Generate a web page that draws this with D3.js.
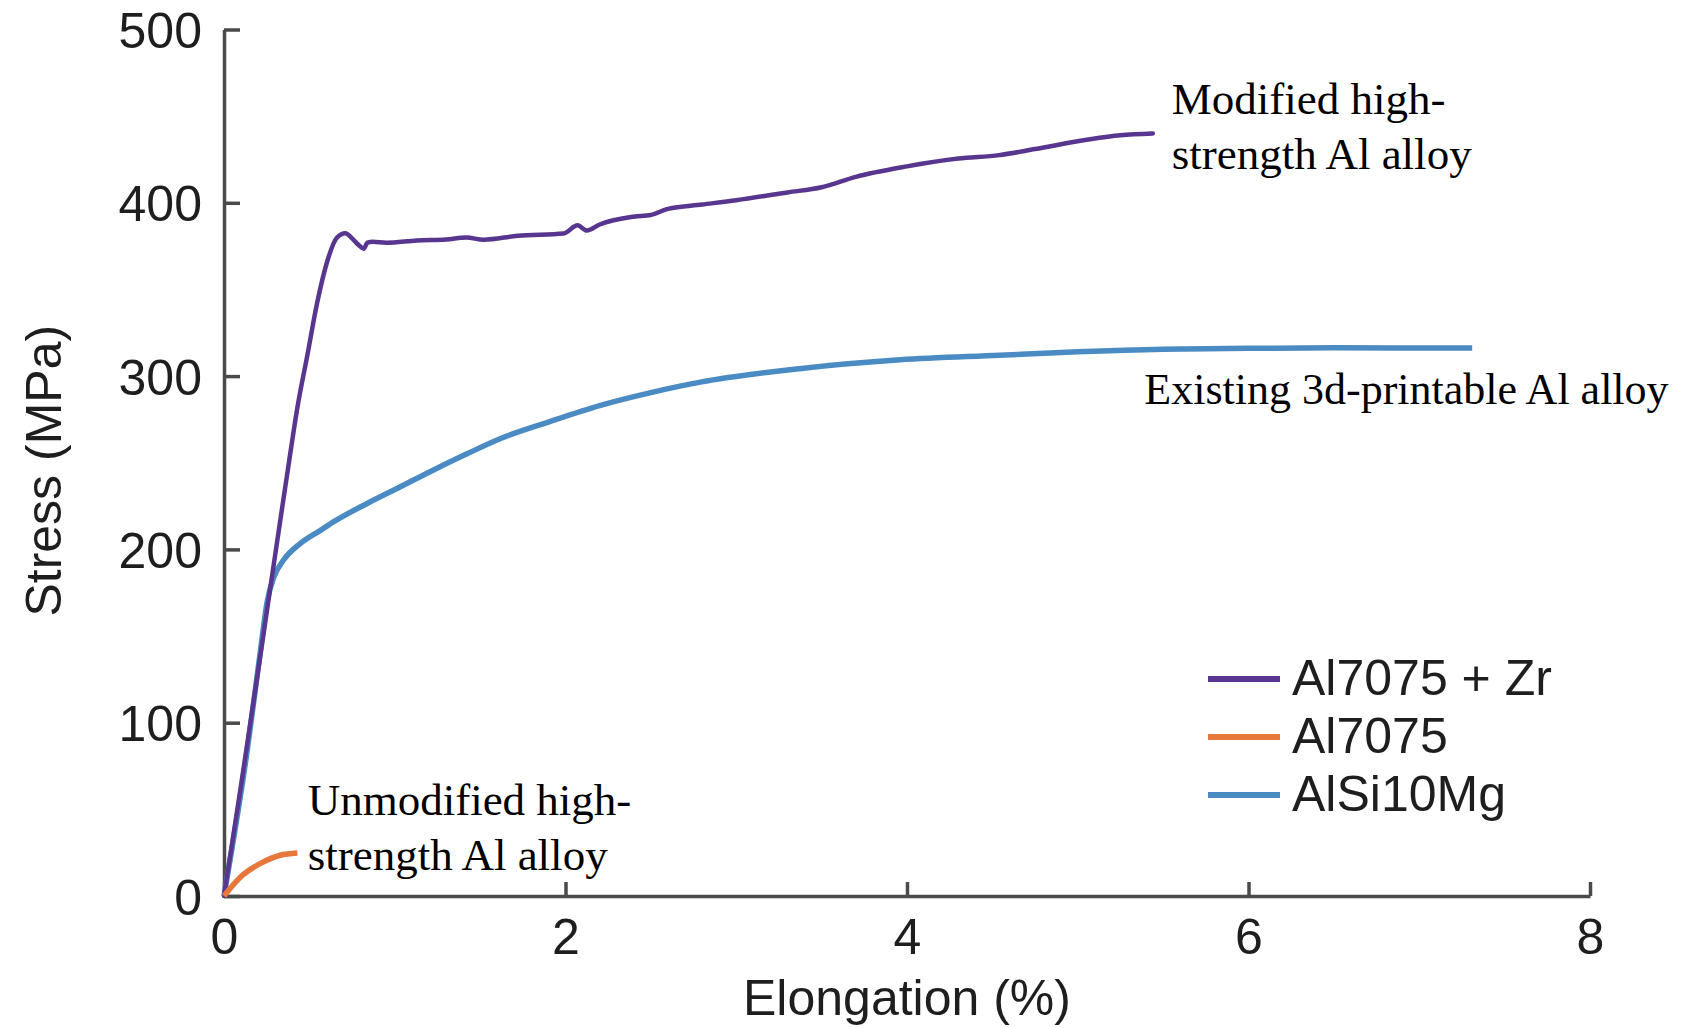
<!DOCTYPE html>
<html>
<head>
<meta charset="utf-8">
<script src="https://cdn.jsdelivr.net/npm/d3@7"></script>
<style>
    body { margin: 0; background: #fff; }
    .tick text { font-family: "Liberation Sans", Arial, sans-serif; fill: #1e1e1e; }
    .note { font-family: "Liberation Serif", "Times New Roman", serif; fill: #000; }
</style>
</head>
<body>
<div class="chart"></div>
<script>
// stress-strain curves: [elongation %, stress MPa]
const al7075_zr = [
    [0, 0], [0.1, 64], [0.2, 130], [0.27, 177], [0.33, 217], [0.38, 250], [0.43, 282],
    [0.49, 313], [0.545, 342], [0.604, 366], [0.662, 380], [0.711, 382.5], [0.75, 379.5],
    [0.79, 375.5], [0.818, 373.5], [0.84, 377], [0.87, 377.5], [0.95, 377], [1.13, 378.3],
    [1.3, 378.8], [1.42, 380], [1.52, 378.7], [1.72, 381], [1.99, 382.3], [2.07, 387],
    [2.125, 384], [2.2, 387.5], [2.4, 392], [2.5, 393], [2.6, 396.5], [2.8, 399],
    [3.0, 401.5], [3.3, 406], [3.5, 409], [3.7, 415], [4.0, 421], [4.3, 425.5],
    [4.54, 427.5], [4.75, 431], [5.06, 436.5], [5.25, 439], [5.44, 440]
]
const al7075 = [
    [0, 0], [0.05, 6], [0.097, 11], [0.214, 18.8], [0.33, 23.5], [0.43, 24.8]
]
const alsi10mg = [
    [0, 0], [0.136, 84], [0.214, 142], [0.253, 170], [0.292, 184], [0.35, 194],
    [0.448, 203.5], [0.565, 211], [0.643, 216], [0.838, 226.5], [1.03, 236], [1.23, 246],
    [1.42, 255], [1.62, 264], [1.9, 273.5], [2.2, 283], [2.5, 290.5], [2.79, 296.5],
    [3.37, 304.3], [3.96, 309.4], [4.54, 312], [5.0, 314], [5.5, 315.5], [6.0, 316],
    [6.5, 316.3], [7.31, 316.2]
]

const series_names = ["Al7075 + Zr", "Al7075", "AlSi10Mg"]
const series_colors = ["#58358e", "#e8773c", "#4b8bc4"]
const x_ticks = [0, 2, 4, 6, 8]
const y_ticks = [0, 100, 200, 300, 400, 500]
const annotations = [
    { lines: ["Modified high-", "strength Al alloy"], x: 5.55, y: 451, size: 45 },
    { lines: ["Existing 3d-printable Al alloy"], x: 5.39, y: 284, size: 44 },
    { lines: ["Unmodified high-", "strength Al alloy"], x: 0.49, y: 47, size: 45 }
]

const ctx = {
    W: 1699,
    H: 1028,
}

function draw_chart() {
    const svg = d3.select(".chart")
        .append("svg")
        .attr("width", ctx.W)
        .attr("height", ctx.H)

    const x = d3.scaleLinear().domain([0, 8]).range([224, 1590])
    const y = d3.scaleLinear().domain([0, 500]).range([896, 29.5])

    const x_axis = svg.append("g")
        .attr("transform", `translate(0,${y(0)})`)
        .call(d3.axisBottom(x).tickValues(x_ticks).tickSizeInner(-14).tickSizeOuter(0).tickPadding(22))
    const y_axis = svg.append("g")
        .attr("transform", `translate(${x(0)},0)`)
        .call(d3.axisLeft(y).tickValues(y_ticks).tickSizeInner(-16).tickSizeOuter(0).tickPadding(22))

    ;[x_axis, y_axis].forEach(a => {
        a.select(".domain").attr("stroke", "#4a4a4a").attr("stroke-width", 3.5)
        a.selectAll(".tick line").attr("stroke", "#4a4a4a").attr("stroke-width", 3.5)
        a.selectAll(".tick text").attr("font-size", 50)
    })
    x_axis.selectAll(".tick text").attr("dy", "0.71em")
    y_axis.selectAll(".tick text").attr("x", -22).attr("dy", "0.36em")

    // axis titles
    svg.append("text")
        .attr("x", (x(0) + x(8)) / 2)
        .attr("y", 1015)
        .attr("text-anchor", "middle")
        .attr("font-family", "Liberation Sans, Arial, sans-serif")
        .attr("font-size", 50)
        .attr("fill", "#1e1e1e")
        .text("Elongation (%)")

    svg.append("text")
        .attr("transform", `translate(61,${(y(0) + y(500)) / 2 + 8}) rotate(-90)`)
        .attr("text-anchor", "middle")
        .attr("font-family", "Liberation Sans, Arial, sans-serif")
        .attr("font-size", 50)
        .attr("fill", "#1e1e1e")
        .text("Stress (MPa)")

    const line_smooth = d3.line().x(d => x(d[0])).y(d => y(d[1])).curve(d3.curveMonotoneX)

    // blue first, purple above it, orange on top
    svg.append("path")
        .attr("d", line_smooth(alsi10mg))
        .attr("fill", "none")
        .attr("stroke", series_colors[2])
        .attr("stroke-width", 5.5)
        .attr("stroke-linejoin", "round")
    svg.append("path")
        .attr("d", line_smooth(al7075_zr))
        .attr("fill", "none")
        .attr("stroke", series_colors[0])
        .attr("stroke-width", 4.5)
        .attr("stroke-linejoin", "round")
        .attr("stroke-linecap", "round")
    svg.append("path")
        .attr("d", line_smooth(al7075))
        .attr("fill", "none")
        .attr("stroke", series_colors[1])
        .attr("stroke-width", 5.5)

    // legend
    const legend = svg.append("g").attr("class", "legend")
    series_names.forEach((name, i) => {
        const ly = 679 + i * 58
        legend.append("line")
            .attr("x1", 1208).attr("x2", 1280)
            .attr("y1", ly).attr("y2", ly)
            .attr("stroke", series_colors[i])
            .attr("stroke-width", 6)
        legend.append("text")
            .attr("x", 1292)
            .attr("y", ly + 16)
            .attr("font-family", "Liberation Sans, Arial, sans-serif")
            .attr("font-size", 50)
            .attr("fill", "#1e1e1e")
            .text(name)
    })

    // text notes
    annotations.forEach(a => {
        const t = svg.append("text")
            .attr("class", "note")
            .attr("font-size", a.size)
        a.lines.forEach((l, i) => {
            t.append("tspan")
                .attr("x", x(a.x))
                .attr("y", y(a.y) + i * 55)
                .text(l)
        })
    })
}

draw_chart()
</script>
</body>
</html>
